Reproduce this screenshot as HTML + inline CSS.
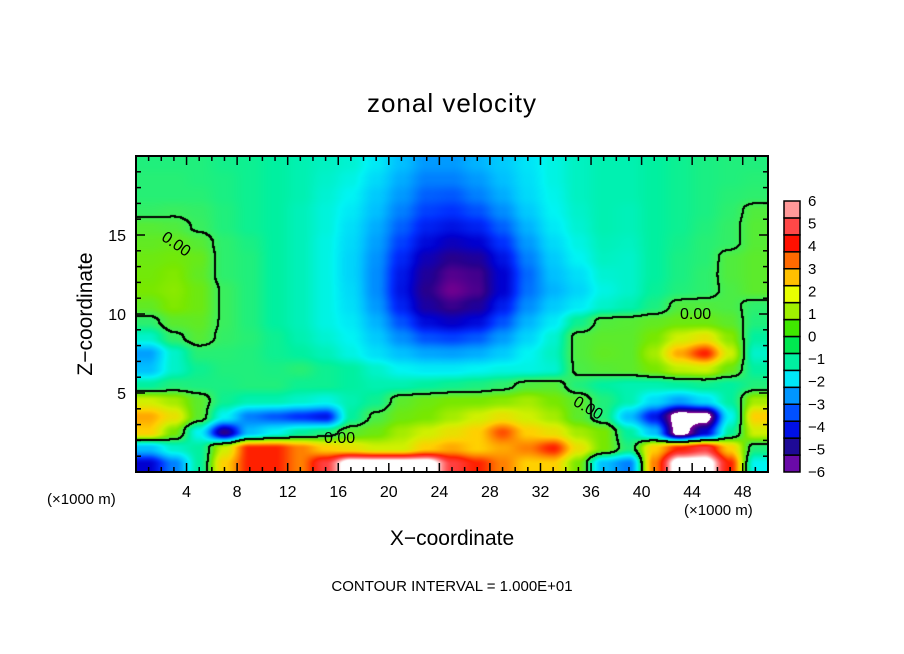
<!DOCTYPE html>
<html><head><meta charset="utf-8"><style>
html,body{margin:0;padding:0;background:#fff;}
#wrap{position:relative;width:904px;height:654px;overflow:hidden;font-family:"Liberation Sans",sans-serif;color:#000;}
.t{position:absolute;white-space:nowrap;}
canvas{position:absolute;}
</style></head><body>
<div id="wrap">
<div class="t" style="left:0;width:904px;text-align:center;top:88px;font-size:26px;letter-spacing:1px;">zonal velocity</div>
<canvas id="plot" width="632" height="316" style="left:136px;top:156px;"></canvas>
<svg id="axes" width="904" height="654" style="position:absolute;left:0;top:0;"></svg>
<div class="t" style="left:0;width:904px;text-align:center;top:527px;font-size:21px;">X−coordinate</div>
<div class="t" style="left:86px;top:314px;font-size:21px;transform:translate(-50%,-50%) rotate(-90deg);">Z−coordinate</div>
<div class="t" style="left:47px;top:491px;font-size:15px;">(×1000 m)</div>
<div class="t" style="left:684px;top:502px;font-size:15px;">(×1000 m)</div>
<div class="t" style="left:0;width:904px;text-align:center;top:578px;font-size:15px;">CONTOUR INTERVAL = 1.000E+01</div>
<div class="t" style="left:160px;top:236px;font-size:16px;transform:rotate(35deg);">0.00</div>
<div class="t" style="left:680px;top:306px;font-size:16px;">0.00</div>
<div class="t" style="left:572px;top:400px;font-size:16px;transform:rotate(30deg);">0.00</div>
<div class="t" style="left:324px;top:430px;font-size:16px;">0.00</div>
</div>
<script>
// grid: columns at x = 1,3,...,49 (km), rows at z = 19.5 ... 0.5
const xCenters=[1,3,5,7,9,11,13,15,17,19,21,23,25,27,29,31,33,35,37,39,41,43,45,47,49];
const zCenters=[19.5,18.5,17.5,16.5,15.5,14.5,13.5,12.5,11.5,10.5,9.5,8.5,7.5,6.5,5.5,4.5,3.5,2.5,1.5,0.5];
const row19=[-0.5,-0.5,-0.5,-0.7,-0.8,-1,-1.2,-1.4,-1.6,-2.2,-3,-3.6,-3.6,-3.2,-2.8,-2.3,-1.8,-1.4,-1.2,-1.2,-1,-0.8,-0.6,-0.5,-0.5];
const row18=[-0.4,-0.4,-0.5,-0.6,-0.8,-1,-1.2,-1.5,-1.8,-2.5,-3.3,-4,-4,-3.6,-3,-2.4,-1.8,-1.4,-1.2,-1.2,-1,-0.8,-0.6,-0.5,-0.4];
const row17=[-0.4,-0.4,-0.4,-0.6,-0.8,-1,-1.2,-1.6,-2,-2.8,-3.6,-4.4,-4.5,-4,-3.3,-2.5,-1.9,-1.4,-1.2,-1.2,-1,-0.8,-0.6,-0.4,-0.3];
const row16=[-0.2,-0.1,-0.2,-0.5,-0.8,-1,-1.3,-1.7,-2.2,-3,-4,-4.8,-5,-4.6,-3.8,-2.8,-2,-1.5,-1.2,-1.3,-1,-0.8,-0.6,-0.3,0.3];
const row15=[0.4,0.3,-0.1,-0.5,-0.8,-1,-1.3,-1.7,-2.4,-3.3,-4.4,-5.3,-5.6,-5.3,-4.4,-3.2,-2.2,-1.6,-1.2,-1.3,-1,-0.8,-0.5,-0.2,0.4];
const row14=[0.6,0.7,0.4,-0.3,-0.6,-1,-1.3,-1.8,-2.5,-3.5,-4.8,-5.8,-6.3,-6,-5,-3.6,-2.5,-1.8,-1.3,-1.4,-1,-0.7,-0.4,-0.2,0.4];
const row13=[0.8,0.9,0.7,-0.3,-0.5,-1,-1.3,-1.8,-2.6,-3.7,-5.2,-6.4,-7,-6.8,-5.6,-4,-2.8,-2,-1.4,-1.5,-1,-0.6,-0.4,0.3,0.5];
const row12=[0.9,1.1,0.6,-0.3,-0.5,-1,-1.3,-1.8,-2.6,-3.8,-5.5,-6.8,-7.5,-7.3,-6,-4.3,-3,-2.4,-1.6,-1.5,-1,-0.6,-0.3,0.3,0.5];
const row11=[1,1.2,0.8,-0.1,-0.5,-1,-1.3,-1.8,-2.5,-3.8,-5.6,-7,-7.8,-7.4,-6,-4.2,-3.2,-2.6,-1.8,-1.5,-0.9,-0.5,-0.3,0.2,0.5];
const row10=[0.6,1.1,0.8,-0.1,-0.5,-1,-1.3,-1.8,-2.4,-3.6,-5.3,-6.7,-7.2,-6.8,-5.4,-3.8,-2.8,-2.2,-1.5,-1.2,-0.6,0.3,0.3,0.2,-0.3];
const row9=[-0.3,0.5,0.6,-0.1,-0.5,-1,-1.3,-1.8,-2.2,-3.2,-4.6,-5.8,-6.2,-5.8,-4.6,-3.2,-2.2,-0.8,0.3,0.4,0.6,0.8,0.8,0.5,-0.5];
const row8=[-1.5,-0.2,0.4,-0.2,-0.4,-0.8,-1.2,-1.6,-2,-2.8,-3.8,-4.6,-4.8,-4.5,-3.6,-2.6,-1.6,0.3,0.5,0.5,1,2,2.5,1.2,-1];
const row7=[-3.5,-1.5,-0.4,-0.4,-0.5,-0.8,-1,-1.3,-1.8,-2.4,-3,-3.4,-3.5,-3.3,-2.8,-2,-1.4,0.3,0.6,0.5,1.5,3.5,5,2,-1.5];
const row6=[-3,-1.5,-0.8,-0.5,-0.5,-0.6,-0.4,-0.8,-1,-1.5,-2,-2.2,-2.2,-2,-1.8,-1.8,-1.6,0.2,0.4,0.5,1,1.8,2,0.8,-1];
const row5=[-1,-0.5,-0.6,-0.6,-0.5,-0.5,-0.8,-0.8,-1,-1.2,-1.2,-1,-0.8,-0.6,-0.3,0.3,0.4,-0.5,-1,-1.2,-1.2,-1,-0.8,-1,-0.5];
const row4=[2,1.5,0.5,-0.8,-1.2,-1.2,-1.5,-1.8,-1.2,-0.8,0.5,0.8,1,1,1.2,1.5,1,0.5,-0.5,-1.2,-2.5,-3.5,-2.5,-1,1.5];
const row3=[3.5,2.5,0.5,-2,-4,-4.5,-5,-5.5,-1,0.2,0.8,1,1.5,2,2.5,2,1.5,0.5,-0.5,-3,-5.5,-9,-9,-2,3];
const row2=[3,1,-2,-7,-3,-2,-1,-0.5,0.5,0.8,1.5,2,2.5,3,4.5,3,2.5,1.5,1,-1,-3,-9,-6,-1,2];
const row1=[-3,-1.5,-1,2,5,5,4,3,2.5,2,2,3,3.5,3,3.5,4,5,2.5,1,-0.5,3,5,6,3,-0.5];
const row0=[-6,-4,-1,3,5,5,4,6,9,9,9,9,6,5,4,3,3,1,-3,-4,4,9,9,5,-2];
const grid=[row19,row18,row17,row16,row15,row14,row13,row12,row11,row10,row9,row8,row7,row6,row5,row4,row3,row2,row1,row0];
const colorbarLabels=["6","5","4","3","2","1","0","−1","−2","−3","−4","−5","−6"];
const xTickLabels=[4,8,12,16,20,24,28,32,36,40,44,48];
const zTickLabels=[5,10,15];

// colour anchors for values -8..8 (continuous shading)
const anchors=["#800090","#28008c","#0000d0","#0030ff","#0080ff","#00c0ff","#00f4f4","#00f0a0","#40ee58","#78e800","#d0f000","#ffd000","#ff8000","#ff2000","#ff4040","#ff9090","#ffffff"];
const palette=["#6a0aa8","#1e0a96","#0010e6","#0050ff","#0096ff","#00e8f8","#00f0a0","#00e850","#40e800","#a0f000","#e8ff00","#ffc000","#ff6a00","#ff1000","#ff4848","#ff9898"];
const X0=136,X1=768,Y0=156,Y1=472,XMAX=50,ZMAX=20;
const sx=x=>X0+(x/XMAX)*(X1-X0), sz=z=>Y1-(z/ZMAX)*(Y1-Y0);
function hex(c){return [parseInt(c.substr(1,2),16),parseInt(c.substr(3,2),16),parseInt(c.substr(5,2),16)];}
const anc=anchors.map(hex);
function colorOf(v){
  if(Math.abs(v)>=8)return [255,255,255];
  const t=v+8,i=Math.min(15,Math.floor(t)),f=t-i;
  const a=anc[i],b=anc[i+1];
  return [a[0]+(b[0]-a[0])*f,a[1]+(b[1]-a[1])*f,a[2]+(b[2]-a[2])*f];
}
function field(x,z){
  let gx=(x-xCenters[0])/(xCenters[1]-xCenters[0]);
  let gy=(zCenters[0]-z)/(zCenters[0]-zCenters[1]);
  gx=Math.max(0,Math.min(xCenters.length-1,gx));gy=Math.max(0,Math.min(zCenters.length-1,gy));
  const i=Math.min(Math.floor(gx),xCenters.length-2),j=Math.min(Math.floor(gy),zCenters.length-2);
  let fx=gx-i,fy=gy-j;
  fx=fx*fx*(3-2*fx);fy=fy*fy*(3-2*fy);
  const a=grid[j][i],b=grid[j][i+1],c=grid[j+1][i],d=grid[j+1][i+1];
  return a*(1-fx)*(1-fy)+b*fx*(1-fy)+c*(1-fx)*fy+d*fx*fy;
}
const cv=document.getElementById('plot'),ctx=cv.getContext('2d');
const W=cv.width,H=cv.height,img=ctx.createImageData(W,H);
const vals=new Float32Array(W*H);
for(let py=0;py<H;py++)for(let px=0;px<W;px++){
  const x=(px+0.5)/W*XMAX,z=ZMAX-(py+0.5)/H*ZMAX;
  const v=field(x,z);vals[py*W+px]=v;
  const col=colorOf(v);
  const o=(py*W+px)*4;img.data[o]=col[0];img.data[o+1]=col[1];img.data[o+2]=col[2];img.data[o+3]=255;
}
function blk(px,py){if(px<0||py<0||px>=W||py>=H)return;const o=(py*W+px)*4;img.data[o]=0;img.data[o+1]=0;img.data[o+2]=0;}
for(let py=1;py<H;py++)for(let px=1;px<W;px++){
  const v=vals[py*W+px],l=vals[py*W+px-1],u=vals[(py-1)*W+px];
  if((v>=0)!==(l>=0)||(v>=0)!==(u>=0)){
    blk(px,py);blk(px-1,py);blk(px,py-1);blk(px-1,py-1);
  }
}
ctx.putImageData(img,0,0);

const svg=document.getElementById('axes'),NS="http://www.w3.org/2000/svg";
function mk(tag,attrs,parent){const e=document.createElementNS(NS,tag);for(const k in attrs)e.setAttribute(k,attrs[k]);(parent||svg).appendChild(e);return e;}
const frame=mk('rect',{x:X0,y:Y0,width:X1-X0,height:Y1-Y0,fill:'none',stroke:'#000','stroke-width':2});


for(let x=1;x<XMAX;x++){
  const major=x%4===0,len=major?9:5;
  const t1=mk('line',{x1:sx(x),x2:sx(x),y1:Y1,y2:Y1-len,stroke:'#000','stroke-width':1.5});
  
  
  const t2=mk('line',{x1:sx(x),x2:sx(x),y1:Y0,y2:Y0+len,stroke:'#000','stroke-width':1.5});
  
  
}
for(let z=1;z<ZMAX;z++){
  const major=z%5===0,len=major?9:5;
  const t1=mk('line',{x1:X0,x2:X0+len,y1:sz(z),y2:sz(z),stroke:'#000','stroke-width':1.5});
  
  
  const t2=mk('line',{x1:X1,x2:X1-len,y1:sz(z),y2:sz(z),stroke:'#000','stroke-width':1.5});
  
  
}
xTickLabels.forEach(v=>{
  const t=mk('text',{x:sx(v),y:497,'text-anchor':'middle','font-size':16,'font-family':'Liberation Sans, sans-serif'});
  t.textContent=v;
  
  
});
zTickLabels.forEach(v=>{
  const t=mk('text',{x:126,y:sz(v)+6,'text-anchor':'end','font-size':16,'font-family':'Liberation Sans, sans-serif'});
  t.textContent=v;
  
  
});
const CB0=201,CB1=472,bh=(CB1-CB0)/palette.length;
palette.forEach((c,i)=>{
  const r=mk('rect',{x:784,y:CB1-(i+1)*bh,width:16,height:bh,fill:c,stroke:'#000','stroke-width':1.5});
  
  
});
colorbarLabels.forEach((s,i)=>{
  const y=CB0+i*(CB1-CB0)/(colorbarLabels.length-1);
  const t=mk('text',{x:808,y:y+5,'font-size':15,'font-family':'Liberation Sans, sans-serif'});
  t.textContent=s;
  
  
});
</script>
</body></html>
